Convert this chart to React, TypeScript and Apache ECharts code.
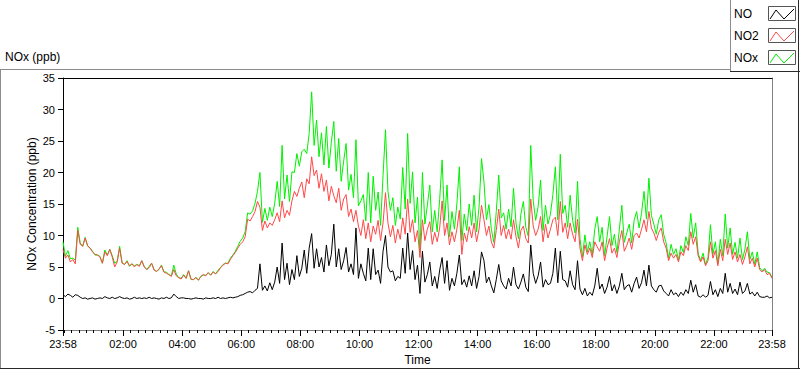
import { useEffect, useRef } from 'react';
import * as echarts from 'echarts';

// Sampling: first sample at 23:58 (minute -2 relative to midnight), every 5 minutes
const START_MIN = -2;
const STEP_MIN = 5;

// NO (ppb), black
const NO = [
  0.6, 0.3, 0.7, 0.5, 0.2, 0.6, 0.5, 0.2, 0.0, 0.1, -0.1, 0.0, 0.1, -0.1, 0.0, 0.1, 0.0, 0.3, 0.1, 0.0, 0.2, 0.0, 0.1, 0.3, 0.1,
  0.0, 0.1, -0.1, 0.0, 0.2, 0.0, 0.1, 0.0, 0.1, 0.0, 0.2, 0.0, 0.1, 0.0, -0.1, 0.1, 0.0, 0.2, 0.0, 0.1, 0.7, 0.3, 0.0, 0.1,
  0.1, 0.0, 0.0, -0.1, 0.0, 0.1, 0.0, 0.0, -0.1, 0.1, 0.0, 0.0, 0.1, 0.0, 0.2, 0.0, 0.1, 0.0, 0.1, 0.2, 0.1, 0.2, 0.3, 0.5,
  0.6, 0.8, 1.0, 1.1, 0.9, 1.3, 1.6, 5.5, 1.3, 2.0, 1.2, 2.5, 1.4, 2.6, 5.0, 2.4, 8.8, 3.0, 5.6, 2.2, 4.6, 3.0, 6.8, 3.5,
  4.8, 7.7, 4.0, 8.0, 10.3, 4.8, 7.9, 5.0, 6.5, 4.2, 8.5, 5.2, 7.0, 11.8, 5.0, 7.9, 4.6, 6.0, 8.1, 4.2, 5.5, 3.8, 11.2, 3.2,
  5.5, 4.0, 2.8, 8.0, 3.0, 7.9, 3.8, 4.5, 2.4, 7.5, 10.0, 5.0, 4.2, 4.4, 2.8, 3.5, 3.2, 8.0, 4.0, 10.4, 4.6, 7.6, 3.0, 5.3,
  0.8, 7.5, 2.6, 3.8, 5.8, 2.0, 3.5, 1.6, 4.5, 6.5, 2.4, 6.0, 1.3, 3.2, 2.0, 4.0, 6.9, 2.2, 3.0, 1.8, 3.6, 2.0, 4.4, 1.6,
  3.5, 7.4, 6.0, 2.5, 3.4, 2.0, 0.9, 3.0, 5.4, 2.8, 2.0, 1.5, 3.2, 2.0, 5.0, 2.2, 1.5, 2.6, 3.9, 1.8, 1.1, 8.5, 4.0, 2.4,
  3.6, 5.8, 1.8, 3.0, 2.2, 2.4, 4.0, 8.0, 2.5, 7.5, 3.0, 2.8, 1.8, 4.4, 2.2, 1.4, 6.0, 1.5, 0.6, 1.6, 0.4, 1.0, 0.5, 2.0,
  4.8, 1.5, 2.3, 0.8, 1.8, 3.5, 1.2, 2.2, 0.8, 2.0, 4.0, 1.4, 2.0, 2.2, 1.0, 2.4, 3.4, 1.6, 2.5, 4.5, 2.0, 5.3, 2.0, 1.4,
  1.0, 2.0, 2.1, 1.2, 0.8, 0.4, 1.4, 0.6, 0.9, 0.3, 1.0, 0.5, 1.4, 0.8, 2.9, 1.0, 2.2, 0.4, 0.2, 0.6, 0.2, 0.5, 2.7, 0.6,
  1.4, 0.3, 1.6, 0.8, 4.0, 1.0, 2.4, 0.8, 1.5, 0.6, 2.6, 0.8, 1.2, 2.4, 0.7, 1.0, 0.4, 1.0, 0.3, 0.2, 0.2, 0.4, 0.1, 0.2,
];

// NO2 (ppb), red
const NO2 = [
  7.8, 6.4, 6.9, 5.8, 6.2, 5.5, 10.8, 8.6, 8.3, 9.6, 8.4, 8.0, 7.4, 7.0, 6.9, 6.6, 5.6, 7.4, 6.8, 7.8, 6.6, 5.0, 5.8, 8.0, 5.6,
  5.4, 5.9, 5.2, 5.5, 5.0, 5.4, 5.1, 6.0, 5.0, 4.6, 4.9, 5.6, 4.5, 4.3, 4.7, 5.2, 4.2, 4.0, 3.8, 3.5, 4.6, 3.6, 3.3, 3.1,
  3.7, 3.2, 4.4, 3.1, 3.0, 3.3, 2.9, 3.5, 3.8, 3.6, 4.1, 3.7, 4.2, 3.9, 4.3, 4.9, 5.3, 5.6, 5.5, 6.2, 6.8, 7.3, 8.0, 8.6,
  9.0, 9.8, 12.6, 12.3, 13.0, 13.8, 15.4, 14.5, 10.8, 12.3, 11.2, 12.0, 11.6, 12.5, 13.6, 12.2, 15.5, 12.8, 14.0, 13.2, 15.5, 17.0, 16.2, 17.5,
  18.5, 16.0, 19.0, 18.2, 22.5, 19.5, 20.4, 17.5, 19.8, 17.0, 18.8, 15.5, 17.8, 16.3, 15.2, 17.5, 14.0, 15.8, 16.5, 13.0, 14.2, 12.2, 14.0, 11.5,
  10.0, 12.5, 9.5, 12.0, 9.0, 11.5, 10.2, 12.4, 9.2, 12.0, 16.8, 12.0, 9.8, 11.6, 8.8, 11.0, 9.4, 12.8, 10.2, 15.8, 10.5, 12.5, 9.0, 10.8,
  6.5, 12.5, 9.2, 11.0, 12.2, 8.6, 10.5, 9.0, 11.2, 15.5, 10.0, 12.0, 8.5, 10.6, 9.0, 11.0, 14.0, 7.0, 10.4, 9.0, 11.4, 9.6, 12.0, 9.0,
  11.0, 14.8, 12.5, 10.0, 11.5, 9.0, 8.0, 10.8, 14.2, 10.0, 11.6, 9.5, 11.0, 9.4, 12.5, 9.8, 8.0, 10.8, 11.5, 9.5, 8.8, 15.8, 11.5, 10.0,
  11.0, 13.0, 9.0, 11.8, 9.6, 11.0, 12.5, 12.9, 10.0, 15.4, 10.5, 12.0, 9.5, 12.0, 10.2, 9.0, 12.6, 8.0, 6.0, 8.5, 7.0, 8.0, 6.5, 9.0,
  8.2, 7.5, 9.0, 6.0, 8.0, 9.5, 7.2, 8.0, 6.5, 9.0, 10.8, 7.5, 8.4, 9.6, 7.8, 10.0, 10.4, 9.6, 11.0, 12.5, 10.6, 13.8, 11.2, 10.4,
  9.2, 10.5, 11.2, 9.0, 8.0, 6.0, 7.2, 6.4, 7.0, 5.8, 7.4, 6.8, 8.4, 7.6, 10.6, 8.6, 9.8, 6.8, 5.8, 6.6, 5.2, 6.0, 9.0, 6.4,
  7.6, 5.2, 7.8, 6.0, 9.4, 7.0, 8.8, 6.2, 7.4, 5.8, 7.0, 5.4, 6.6, 8.2, 5.5, 6.4, 5.0, 6.4, 4.6, 4.2, 4.6, 3.8, 4.0, 3.2,
];

// NOx (ppb), green
const NOX = [
  9.0, 6.7, 7.6, 6.3, 6.4, 6.1, 11.3, 8.8, 8.3, 9.7, 8.3, 8.0, 7.5, 6.9, 6.9, 6.7, 5.6, 7.7, 6.9, 7.8, 6.8, 5.6, 5.9, 8.3, 5.7,
  5.4, 6.0, 5.1, 5.5, 5.2, 5.4, 5.2, 6.0, 5.1, 4.6, 5.1, 5.6, 4.6, 4.3, 4.6, 5.3, 4.2, 4.2, 3.8, 3.6, 5.3, 3.9, 3.3, 3.2,
  3.8, 3.2, 4.4, 3.0, 3.0, 3.4, 2.9, 3.5, 3.7, 3.7, 4.1, 3.7, 4.3, 3.9, 4.5, 4.9, 5.4, 5.6, 5.6, 6.4, 6.9, 7.5, 8.3, 9.1,
  9.6, 10.6, 13.6, 13.4, 13.9, 15.1, 17.0, 20.0, 12.1, 14.3, 12.4, 14.5, 13.0, 15.1, 18.6, 14.6, 24.3, 15.8, 19.6, 15.4, 20.1, 20.0, 23.0, 21.0,
  23.3, 23.7, 23.0, 26.2, 32.8, 24.3, 28.3, 22.5, 26.3, 21.2, 27.3, 20.7, 24.8, 28.1, 20.2, 25.4, 18.6, 21.8, 24.6, 17.2, 19.7, 16.0, 25.2, 14.7,
  15.5, 16.5, 12.3, 20.0, 12.0, 19.4, 14.0, 16.9, 11.6, 19.5, 26.8, 17.0, 14.0, 16.0, 11.6, 14.5, 12.6, 20.8, 14.2, 26.2, 15.1, 20.1, 12.0, 16.1,
  7.3, 20.0, 11.8, 14.8, 18.0, 10.6, 14.0, 10.6, 15.7, 22.0, 12.4, 18.0, 9.8, 13.8, 11.0, 15.0, 20.9, 9.2, 13.4, 10.8, 15.0, 11.6, 16.4, 10.6,
  14.5, 22.2, 18.5, 12.5, 14.9, 11.0, 8.9, 13.8, 19.6, 12.8, 13.6, 11.0, 14.2, 11.4, 17.5, 12.0, 9.5, 13.4, 15.4, 11.3, 9.9, 24.3, 15.5, 12.4,
  14.6, 18.8, 10.8, 14.8, 11.8, 13.4, 16.5, 20.9, 12.5, 22.9, 13.5, 14.8, 11.3, 16.4, 12.4, 10.4, 18.6, 9.5, 6.6, 10.1, 7.4, 9.0, 7.0, 11.0,
  13.0, 9.0, 11.3, 6.8, 9.8, 13.0, 8.4, 10.2, 7.3, 11.0, 14.8, 8.9, 10.4, 11.8, 8.8, 12.4, 13.8, 11.2, 13.5, 17.0, 12.6, 19.1, 13.2, 11.8,
  10.2, 12.5, 13.3, 10.2, 8.8, 6.4, 8.6, 7.0, 7.9, 6.1, 8.4, 7.3, 9.8, 8.4, 13.5, 9.6, 12.0, 7.2, 6.0, 7.2, 5.4, 6.5, 11.7, 7.0,
  9.0, 5.5, 9.4, 6.8, 13.4, 8.0, 11.2, 7.0, 8.9, 6.4, 9.6, 6.2, 7.8, 10.6, 6.2, 7.4, 5.4, 7.4, 4.9, 4.4, 4.8, 4.2, 4.1, 3.4,
];

// X axis: minutes relative to midnight; range 23:58 -> 23:58
const X_MIN = -2;
const X_MAX = 1438;
const X_MAJOR = [-2, 120, 240, 360, 480, 600, 720, 840, 960, 1080, 1200, 1320, 1438];
const X_LABELS = ['23:58', '02:00', '04:00', '06:00', '08:00', '10:00', '12:00', '14:00', '16:00', '18:00', '20:00', '22:00', '23:58'];
const X_MINOR_STEP = 15;

const Y_MIN = -5;
const Y_MAX = 35;
const Y_STEP = 5;

const SERIES_NAMES = ['NO', 'NO2', 'NOx'];
const SERIES_COLORS = ['#000000', '#ff4848', '#00f000'];

const FONT = 'Liberation Sans, Arial, sans-serif';

function toPairs(arr: number[]) {
  return arr.map((v, i) => [START_MIN + STEP_MIN * i, v]);
}

export default function App() {
  const ref = useRef<HTMLDivElement>(null);

  useEffect(() => {
    if (!ref.current) return;
    const chart = echarts.init(ref.current, undefined, { renderer: 'svg' });

    const minor: number[] = [];
    for (let m = 0; m < 1440; m += X_MINOR_STEP) minor.push(m);

    const legendCenters = [14, 36, 58];
    const legendGraphics: any[] = [];
    SERIES_NAMES.forEach((name, k) => {
      const c = legendCenters[k];
      legendGraphics.push({
        type: 'text',
        style: { text: name, x: 734, y: c, verticalAlign: 'middle', align: 'left', font: `12px ${FONT}`, fill: '#000' },
      });
      legendGraphics.push({
        type: 'rect',
        shape: { x: 768.5, y: c - 7.5, width: 27, height: 14 },
        style: { fill: '#fff', stroke: '#555', lineWidth: 1 },
      });
      legendGraphics.push({
        type: 'polyline',
        shape: { points: [[770, c + 5], [776, c - 4], [784, c + 5], [794, c - 5]] },
        style: { stroke: SERIES_COLORS[k], lineWidth: 1, fill: null },
      });
    });

    const option: any = {
      animation: false,
      backgroundColor: '#ffffff',
      textStyle: { fontFamily: FONT },
      grid: { left: 63, right: 28, top: 78, bottom: 39, show: false, outerBoundsMode: 'none' },
      xAxis: [
        {
          type: 'value',
          min: X_MIN,
          max: X_MAX,
          position: 'bottom',
          name: 'Time',
          nameLocation: 'middle',
          nameGap: 22,
          nameTextStyle: { fontSize: 12, color: '#000', fontFamily: FONT },
          axisLine: { show: true, onZero: false, lineStyle: { color: '#808080', width: 1 } },
          axisTick: { show: true, customValues: X_MAJOR, length: 6, lineStyle: { color: '#000', width: 1 } },
          axisLabel: {
            show: true,
            customValues: X_MAJOR,
            formatter: (v: number) => {
              const idx = X_MAJOR.indexOf(v);
              return idx >= 0 ? X_LABELS[idx] : '';
            },
            fontSize: 11,
            color: '#000',
            margin: 8,
            fontFamily: FONT,
          },
          splitLine: { show: false },
        },
        {
          type: 'value',
          min: X_MIN,
          max: X_MAX,
          position: 'bottom',
          axisLine: { show: false, onZero: false },
          axisTick: { show: true, customValues: minor, length: 3, lineStyle: { color: '#000', width: 1 } },
          axisLabel: { show: false },
          splitLine: { show: false },
        },
        {
          type: 'value',
          min: X_MIN,
          max: X_MAX,
          position: 'top',
          axisLine: { show: true, onZero: false, lineStyle: { color: '#000', width: 1 } },
          axisTick: { show: false },
          axisLabel: { show: false },
          splitLine: { show: false },
        },
      ],
      yAxis: [
        {
          type: 'value',
          min: Y_MIN,
          max: Y_MAX,
          interval: Y_STEP,
          position: 'left',
          name: 'NOx Concentration (ppb)',
          nameLocation: 'middle',
          nameRotate: 90,
          nameGap: 25,
          nameMoveOverlap: false,
          nameTextStyle: { fontSize: 12, color: '#000', fontFamily: FONT },
          axisLine: { show: true, onZero: false, lineStyle: { color: '#000', width: 1 } },
          axisTick: { show: true, length: 5, lineStyle: { color: '#000', width: 1 } },
          axisLabel: { fontSize: 11, color: '#000', margin: 8, fontFamily: FONT },
          splitLine: { show: false },
        },
        {
          type: 'value',
          min: Y_MIN,
          max: Y_MAX,
          interval: Y_STEP,
          position: 'right',
          axisLine: { show: true, onZero: false, lineStyle: { color: '#808080', width: 1 } },
          axisTick: { show: false },
          axisLabel: { show: false },
          splitLine: { show: false },
        },
      ],
      series: [
        {
          name: SERIES_NAMES[2],
          type: 'line',
          data: toPairs(NOX),
          showSymbol: false,
          symbol: 'none',
          lineStyle: { color: SERIES_COLORS[2], width: 1 },
          itemStyle: { color: SERIES_COLORS[2] },
          z: 2,
        },
        {
          name: SERIES_NAMES[1],
          type: 'line',
          data: toPairs(NO2),
          showSymbol: false,
          symbol: 'none',
          lineStyle: { color: SERIES_COLORS[1], width: 1 },
          itemStyle: { color: SERIES_COLORS[1] },
          z: 3,
        },
        {
          name: SERIES_NAMES[0],
          type: 'line',
          data: toPairs(NO),
          showSymbol: false,
          symbol: 'none',
          lineStyle: { color: SERIES_COLORS[0], width: 1 },
          itemStyle: { color: SERIES_COLORS[0] },
          z: 4,
        },
      ],
      graphic: [
        // outer frame
        { type: 'line', shape: { x1: 0, y1: 69.5, x2: 731, y2: 69.5 }, style: { stroke: '#8c8c8c', lineWidth: 1 } },
        { type: 'line', shape: { x1: 0.5, y1: 69, x2: 0.5, y2: 369 }, style: { stroke: '#8c8c8c', lineWidth: 1 } },
        { type: 'line', shape: { x1: 0, y1: 368.5, x2: 800, y2: 368.5 }, style: { stroke: '#2a2a2a', lineWidth: 1 } },
        { type: 'line', shape: { x1: 798.5, y1: 72, x2: 798.5, y2: 369 }, style: { stroke: '#2a2a2a', lineWidth: 1 } },
        // chart title
        {
          type: 'text',
          style: { text: 'NOx (ppb)', x: 5, y: 57, verticalAlign: 'middle', align: 'left', font: `12px ${FONT}`, fill: '#000' },
        },
        // legend box
        { type: 'rect', shape: { x: 730.5, y: -1, width: 68, height: 72.5 }, style: { fill: '#fff', stroke: '#8c8c8c', lineWidth: 1 } },
        { type: 'line', shape: { x1: 730, y1: 71.5, x2: 800, y2: 71.5 }, style: { stroke: '#2a2a2a', lineWidth: 1 } },
        { type: 'line', shape: { x1: 798.5, y1: 0, x2: 798.5, y2: 72 }, style: { stroke: '#2a2a2a', lineWidth: 1 } },
        ...legendGraphics,
      ],
    };

    chart.setOption(option);
    return () => {
      chart.dispose();
    };
  }, []);

  return (
    <div
      ref={ref}
      style={{ position: 'absolute', left: 0, top: 0, width: 800, height: 369, background: '#fff' }}
    />
  );
}
